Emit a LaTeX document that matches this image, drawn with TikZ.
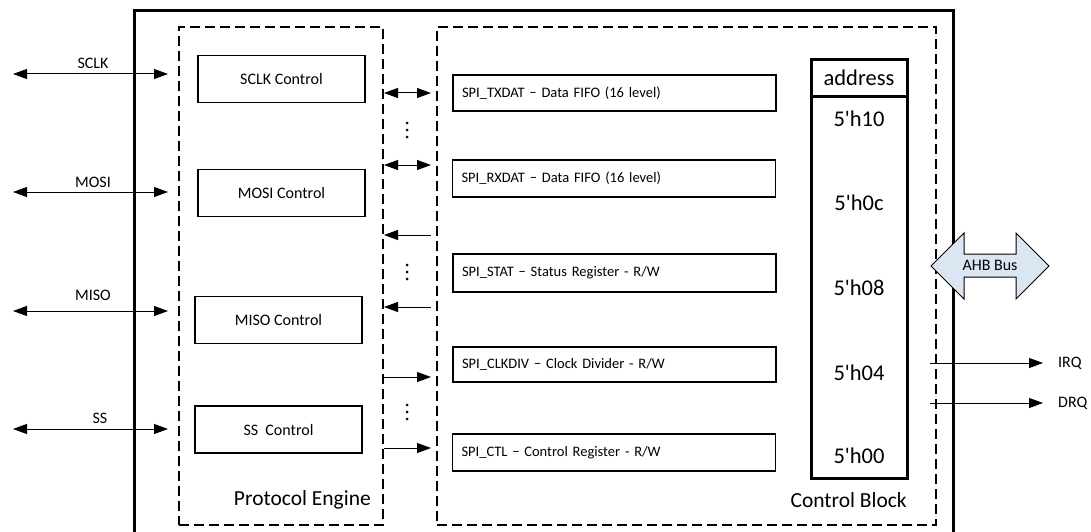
\documentclass[tikz,border=0pt]{standalone}
\usepackage{fontspec}
\setmainfont{Carlito}
\usetikzlibrary{arrows.meta}
\definecolor{ahbfill}{HTML}{DCE6F2}
\begin{document}
\begin{tikzpicture}[x=1pt,y=-1pt,
  tip/.style={-{Triangle[length=14pt,width=10pt]}},
  dbl/.style={{Triangle[length=14pt,width=10pt]}-{Triangle[length=14pt,width=10pt]}},
  ctrl/.style={draw, line width=1.3pt, minimum width=167pt, minimum height=47pt, font=\fontsize{16}{18}\selectfont, inner sep=0pt},
  reg/.style={draw, line width=1.3pt, minimum height=36pt, text width=305pt, inner xsep=9pt, inner ysep=0pt, align=left, font=\fontsize{14.5}{16}\selectfont},
  dashbox/.style={draw, line width=1.3pt, dash pattern=on 10pt off 5pt, inner sep=0pt},
  lbl/.style={font=\fontsize{16}{18}\selectfont, inner sep=0pt},
  addr/.style={font=\fontsize{22.5}{26}\selectfont, inner sep=0pt},
  big/.style={font=\fontsize{21.5}{24}\selectfont, inner sep=0pt},
  dotc/.style={fill=black, draw=none, circle, inner sep=0pt, minimum size=3pt}]
\useasboundingbox (0,0) rectangle (1091,532);
\clip (0,0) rectangle (1091,532);

% outer frame
\draw[line width=3pt] (134,545) -- (134,11) -- (953,11) -- (953,545);

% dashed blocks
\node[dashbox, minimum width=204pt, minimum height=498pt] (pe) at (281,276) {};
\node[dashbox, minimum width=499pt, minimum height=498pt] (cb) at (686.5,276) {};
\node[big, anchor=east] (pelbl) at (371,500) {Protocol Engine};
\node[big, anchor=east] (cblbl) at (907,500) {Control Block};

% control boxes
\node[ctrl] (sclk) at (281.5,79) {SCLK Control};
\node[ctrl] (mosi) at (281.5,193) {MOSI Control};
\node[ctrl] (miso) at (278.5,320) {MISO Control};
\node[ctrl] (ss) at (278.5,429.5) {SS\ \ Control};

% external signals
\coordinate (sclkL) at (13,74);  \coordinate (sclkR) at (168,74);
\coordinate (mosiL) at (13,192); \coordinate (mosiR) at (168,192);
\coordinate (misoL) at (13,311); \coordinate (misoR) at (168,311);
\coordinate (ssL) at (13,429);   \coordinate (ssR) at (168,429);
\draw[dbl, line width=1pt] (sclkL) -- (sclkR);
\draw[dbl, line width=1pt] (mosiL) -- (mosiR);
\draw[dbl, line width=1pt] (misoL) -- (misoR);
\draw[dbl, line width=1pt] (ssL) -- (ssR);
\node[lbl] (sclkt) at (93,63) {SCLK};
\node[lbl] (mosit) at (93,182) {MOSI};
\node[lbl] (misot) at (93,295) {MISO};
\node[lbl] (sst) at (100,418) {SS};

% registers
\node[reg] (tx) at (614.5,93) {SPI\_TXDAT − Data FIFO (16 level)};
\node[reg, minimum height=37pt] (rx) at (614,178.5) {SPI\_RXDAT − Data FIFO (16 level)};
\node[reg, minimum height=38pt] (stat) at (614.5,273) {SPI\_STAT − Status Register - R/W};
\node[reg, minimum height=35pt] (clkdiv) at (614.5,364.5) {SPI\_CLKDIV − Clock Divider - R/W};
\node[reg, minimum height=37pt] (ctl) at (614,452.5) {SPI\_CTL − Control Register - R/W};

% internal connectors
\coordinate (p1) at (384,93);  \coordinate (c1) at (431,93);
\coordinate (p2) at (384,165); \coordinate (c2) at (431,165);
\coordinate (p3) at (384,235); \coordinate (c3) at (431,235);
\coordinate (p4) at (384,307); \coordinate (c4) at (431,307);
\coordinate (p5) at (384,377); \coordinate (c5) at (431,377);
\coordinate (p6) at (384,448); \coordinate (c6) at (431,448);
\draw[dbl, line width=1pt] (p1) -- (c1);
\draw[dbl, line width=1pt] (p2) -- (c2);
\draw[tip, line width=1pt] (c3) -- (p3);
\draw[tip, line width=1pt] (c4) -- (p4);
\draw[tip, line width=1pt] (p5) -- (c5);
\draw[tip, line width=1pt] (p6) -- (c6);

% vertical ellipses
\foreach \yc/\nm in {130/a,272/b,412/c}{
  \node[dotc] (d\nm1) at (407,\yc-7) {};
  \node[dotc] (d\nm2) at (407,\yc) {};
  \node[dotc] (d\nm3) at (407,\yc+7) {};
}

% address column
\node[draw, line width=3pt, minimum width=96pt, minimum height=418pt, inner sep=0pt] (addrbox) at (859,269) {};
\draw[line width=3pt] (811,97) -- (907,97);
\node[addr] (ah) at (859,78) {address};
\node[addr] (a10) at (859,119) {5\textquotesingle h10};
\node[addr] (a0c) at (859,203) {5\textquotesingle h0c};
\node[addr] (a08) at (859,288) {5\textquotesingle h08};
\node[addr] (a04) at (859,373) {5\textquotesingle h04};
\node[addr] (a00) at (859,456) {5\textquotesingle h00};

% AHB bus
\draw[line width=1pt, fill=ahbfill] (931,266) -- (964,233) -- (964,254) -- (1016,254) -- (1016,233) -- (1049,266) -- (1016,299) -- (1016,277) -- (964,277) -- (964,299) -- cycle;
\node[lbl] (ahb) at (990,265) {AHB Bus};

% IRQ / DRQ
\node[lbl, anchor=west] (irq) at (1058,363) {IRQ};
\node[lbl, anchor=west] (drq) at (1058,403) {DRQ};
\coordinate (irqA) at (930,363);
\coordinate (drqA) at (930,403);
\draw[tip, line width=1pt, shorten >=15pt] (irqA) -- (irq.west);
\draw[tip, line width=1pt, shorten >=15pt] (drqA) -- (drq.west);
\end{tikzpicture}
\end{document}
